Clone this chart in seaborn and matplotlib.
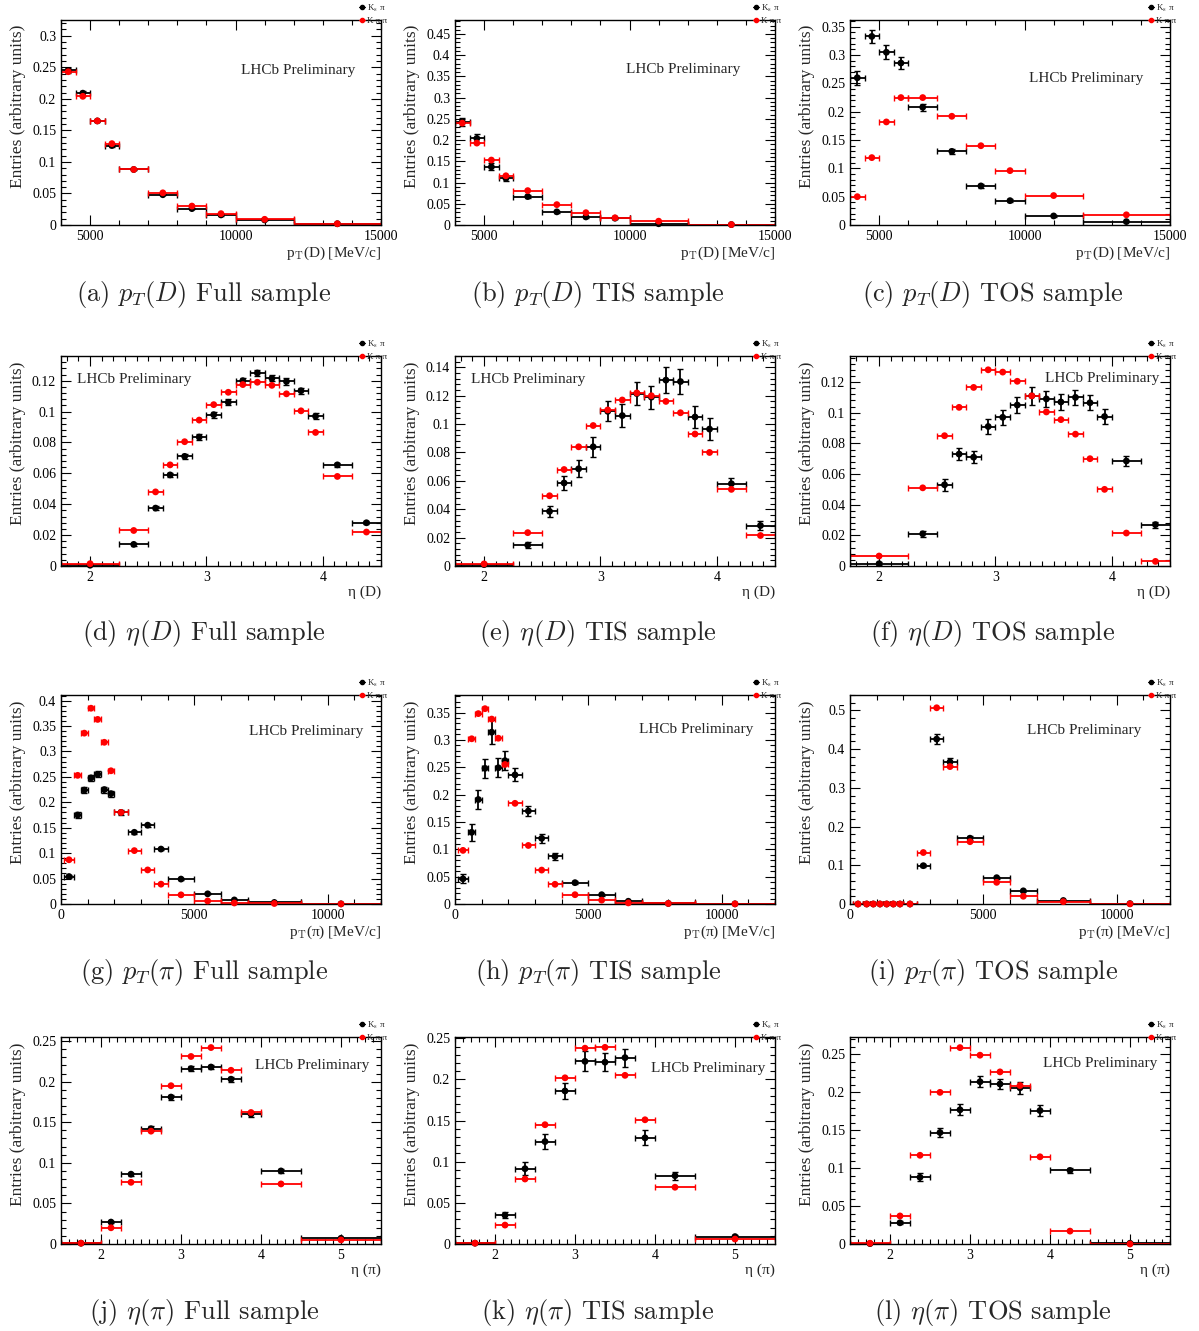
import numpy as np
import pandas as pd
import matplotlib
matplotlib.use("Agg")
import matplotlib.pyplot as plt
from matplotlib.lines import Line2D
from matplotlib.ticker import MultipleLocator, AutoMinorLocator, FuncFormatter
import seaborn as sns

# bin edges for the four variables
pt_d_edges = [4000, 4500, 5000, 5500, 6000, 7000, 8000, 9000, 10000, 12000, 15000]
eta_d_edges = [1.75, 2.25, 2.5, 2.625, 2.75, 2.875, 3.0, 3.125, 3.25, 3.375,
               3.5, 3.625, 3.75, 3.875, 4.0, 4.25, 4.5]
pt_pi_edges = [100, 500, 750, 1000, 1250, 1500, 1750, 2000, 2500, 3000, 3500,
               4000, 5000, 6000, 7000, 9000, 12000]
eta_pi_edges = [1.5, 2.0, 2.25, 2.5, 2.75, 3.0, 3.25, 3.5, 3.75, 4.0, 4.5, 5.5]
x_ranges = [(4000, 15000), (1.75, 4.5), (0, 12000), (1.5, 5.5)]

# (a)-(c) pT(D)
a_kspi = [0.245, 0.209, 0.165, 0.126, 0.088, 0.048, 0.026, 0.016, 0.008, 0.002]
a_kspi_err = [0.004, 0.004, 0.002, 0.002, 0.001, 0.001, 0.001, 0.001, 0.0005, 0.0003]
a_kpipi = [0.243, 0.204, 0.165, 0.129, 0.088, 0.051, 0.030, 0.018, 0.009, 0.002]
b_kspi = [0.243, 0.204, 0.137, 0.110, 0.067, 0.031, 0.019, 0.016, 0.003, 0.001]
b_kspi_err = [0.010, 0.011, 0.008, 0.006, 0.004, 0.003, 0.002, 0.002, 0.001, 0.0005]
b_kpipi = [0.240, 0.193, 0.153, 0.116, 0.081, 0.048, 0.029, 0.017, 0.009, 0.001]
c_kspi = [0.260, 0.333, 0.305, 0.286, 0.208, 0.130, 0.069, 0.043, 0.016, 0.006]
c_kspi_err = [0.012, 0.012, 0.012, 0.010, 0.006, 0.005, 0.004, 0.003, 0.002, 0.001]
c_kpipi = [0.050, 0.119, 0.182, 0.225, 0.225, 0.192, 0.140, 0.096, 0.052, 0.018]

# (d)-(f) eta(D)
d_kspi = [0.0005, 0.014, 0.0375, 0.059, 0.071, 0.0835, 0.098, 0.106, 0.120, 0.125,
          0.1215, 0.1195, 0.1135, 0.097, 0.0655, 0.028]
d_kspi_err = [0.0005, 0.001, 0.0015, 0.0015, 0.0015, 0.002, 0.002, 0.002, 0.002,
              0.002, 0.002, 0.002, 0.002, 0.002, 0.0015, 0.001]
d_kpipi = [0.0015, 0.023, 0.048, 0.0655, 0.0805, 0.0945, 0.1045, 0.1125, 0.1175,
           0.119, 0.117, 0.1115, 0.1005, 0.0865, 0.058, 0.022]
e_kspi = [0.001, 0.0147, 0.0385, 0.0585, 0.0685, 0.084, 0.109, 0.106, 0.1215, 0.119,
          0.131, 0.130, 0.105, 0.0965, 0.058, 0.0285]
e_kspi_err = [0.001, 0.002, 0.004, 0.005, 0.006, 0.007, 0.007, 0.008, 0.008, 0.008,
              0.009, 0.009, 0.008, 0.008, 0.004, 0.003]
e_kpipi = [0.0015, 0.0235, 0.0495, 0.068, 0.084, 0.099, 0.110, 0.117, 0.122, 0.120,
           0.116, 0.108, 0.093, 0.080, 0.054, 0.0215]
f_kspi = [0.0015, 0.021, 0.053, 0.073, 0.071, 0.091, 0.097, 0.105, 0.111, 0.109,
          0.107, 0.110, 0.1065, 0.0975, 0.0685, 0.027]
f_kspi_err = [0.001, 0.002, 0.004, 0.004, 0.004, 0.005, 0.005, 0.005, 0.006, 0.005,
              0.005, 0.005, 0.005, 0.005, 0.003, 0.002]
f_kpipi = [0.0065, 0.051, 0.085, 0.1035, 0.1165, 0.128, 0.1265, 0.1205, 0.111,
           0.1005, 0.0955, 0.086, 0.070, 0.050, 0.0215, 0.003]

# (g)-(i) pT(pi)
g_kspi = [0.054, 0.175, 0.224, 0.248, 0.255, 0.225, 0.217, 0.180, 0.141, 0.155,
          0.108, 0.049, 0.020, 0.008, 0.003, 0.0003]
g_kspi_err = [0.003, 0.006, 0.006, 0.006, 0.006, 0.006, 0.006, 0.005, 0.003, 0.003,
              0.002, 0.002, 0.001, 0.001, 0.0005, 0.0]
g_kpipi = [0.087, 0.253, 0.336, 0.385, 0.363, 0.318, 0.262, 0.180, 0.105, 0.067,
           0.039, 0.018, 0.006, 0.002, 0.001, 0.0002]
h_kspi = [0.046, 0.131, 0.191, 0.248, 0.314, 0.249, 0.262, 0.236, 0.170, 0.120,
          0.087, 0.039, 0.017, 0.005, 0.001, 0.0003]
h_kspi_err = [0.008, 0.016, 0.018, 0.017, 0.022, 0.017, 0.017, 0.012, 0.010, 0.008,
              0.006, 0.003, 0.002, 0.001, 0.0005, 0.0]
h_kpipi = [0.098, 0.302, 0.348, 0.357, 0.338, 0.303, 0.255, 0.184, 0.107, 0.062,
           0.036, 0.017, 0.007, 0.002, 0.001, 0.0002]
i_kspi = [0, 0, 0, 0, 0, 0, 0, 0, 0.099, 0.426, 0.367, 0.170, 0.068, 0.034, 0.009, 0.001]
i_kspi_err = [0, 0, 0, 0, 0, 0, 0, 0, 0.004, 0.012, 0.010, 0.005, 0.003, 0.002, 0.001, 0.0005]
i_kpipi = [0, 0, 0, 0, 0, 0, 0, 0, 0.133, 0.507, 0.355, 0.161, 0.056, 0.020, 0.006, 0.0003]

# (j)-(l) eta(pi)
j_kspi = [0.001, 0.027, 0.086, 0.142, 0.181, 0.216, 0.218, 0.203, 0.160, 0.090, 0.007]
j_kspi_err = [0.0005, 0.0015, 0.002, 0.003, 0.003, 0.003, 0.003, 0.003, 0.003, 0.002, 0.001]
j_kpipi = [0.001, 0.020, 0.076, 0.139, 0.195, 0.231, 0.242, 0.214, 0.162, 0.074, 0.005]
k_kspi = [0.001, 0.035, 0.0915, 0.1245, 0.186, 0.222, 0.221, 0.2265, 0.129, 0.083, 0.009]
k_kspi_err = [0.0005, 0.004, 0.008, 0.009, 0.010, 0.012, 0.011, 0.011, 0.009, 0.005, 0.002]
k_kpipi = [0.001, 0.023, 0.079, 0.145, 0.202, 0.238, 0.239, 0.205, 0.151, 0.069, 0.006]
l_kspi = [0.0005, 0.028, 0.088, 0.147, 0.177, 0.214, 0.211, 0.206, 0.176, 0.097, 0.001]
l_kspi_err = [0.0005, 0.002, 0.005, 0.006, 0.007, 0.007, 0.007, 0.008, 0.007, 0.003, 0.001]
l_kpipi = [0.001, 0.037, 0.117, 0.200, 0.259, 0.249, 0.227, 0.209, 0.115, 0.017, 0.0]

x_labels = ["p$_{\\mathrm{T}}$(D) [MeV/c]", "\u03b7 (D)",
            "p$_{\\mathrm{T}}$(\u03c0) [MeV/c]", "\u03b7 (\u03c0)"]
captions = [["(a) $p_T(D)$ Full sample", "(b) $p_T(D)$ TIS sample", "(c) $p_T(D)$ TOS sample"],
            ["(d) $\\eta(D)$ Full sample", "(e) $\\eta(D)$ TIS sample", "(f) $\\eta(D)$ TOS sample"],
            ["(g) $p_T(\\pi)$ Full sample", "(h) $p_T(\\pi)$ TIS sample", "(i) $p_T(\\pi)$ TOS sample"],
            ["(j) $\\eta(\\pi)$ Full sample", "(k) $\\eta(\\pi)$ TIS sample", "(l) $\\eta(\\pi)$ TOS sample"]]
legend_labels = ["K$_{\\mathrm{s}}$ \u03c0", "K \u03c0 \u03c0"]

panels = [
    [(pt_d_edges, a_kspi, a_kspi_err, a_kpipi, 0.325, 0.05, (0.74, 0.756)),
     (pt_d_edges, b_kspi, b_kspi_err, b_kpipi, 0.483, 0.05, (0.713, 0.76)),
     (pt_d_edges, c_kspi, c_kspi_err, c_kpipi, 0.362, 0.05, (0.738, 0.717))],
    [(eta_d_edges, d_kspi, d_kspi_err, d_kpipi, 0.136, 0.02, (0.23, 0.89)),
     (eta_d_edges, e_kspi, e_kspi_err, e_kpipi, 0.148, 0.02, (0.23, 0.886)),
     (eta_d_edges, f_kspi, f_kspi_err, f_kpipi, 0.137, 0.02, (0.788, 0.895))],
    [(pt_pi_edges, g_kspi, g_kspi_err, g_kpipi, 0.411, 0.05, (0.766, 0.823)),
     (pt_pi_edges, h_kspi, h_kspi_err, h_kpipi, 0.382, 0.05, (0.754, 0.837)),
     (pt_pi_edges, i_kspi, i_kspi_err, i_kpipi, 0.54, 0.1, (0.732, 0.828))],
    [(eta_pi_edges, j_kspi, j_kspi_err, j_kpipi, 0.255, 0.05, (0.784, 0.86)),
     (eta_pi_edges, k_kspi, k_kspi_err, k_kpipi, 0.2516, 0.05, (0.791, 0.85)),
     (eta_pi_edges, l_kspi, l_kspi_err, l_kpipi, 0.273, 0.05, (0.782, 0.874))],
]
x_major = [5000, 1, 5000, 1]

sns.set_style("ticks")
plt.rcParams['font.family'] = ['Liberation Serif', 'DejaVu Serif']
plt.rcParams['mathtext.fontset'] = 'cm'

W, H = 1199, 1331
fig = plt.figure(figsize=(W / 100, H / 100), dpi=100)

col_left = [61, 455, 850]
row_box = [(20, 225), (356, 566), (695, 904), (1037, 1244)]
cap_x = [204, 598, 993]
cap_y = [294, 633, 973, 1312]

fmt = FuncFormatter(lambda v, p: "%g" % round(v, 6))

for r in range(4):
    top, bottom = row_box[r]
    for c in range(3):
        edges, kspi, kspi_err, kpipi, ymax, ystep, lhcb_pos = panels[r][c]
        edges = np.array(edges, dtype=float)
        centers = (edges[:-1] + edges[1:]) / 2
        halfw = np.diff(edges) / 2
        ax = fig.add_axes([col_left[c] / W, 1 - bottom / H, 320 / W, (bottom - top) / H])

        df = pd.DataFrame({
            "x": np.concatenate([centers, centers]),
            "y": np.concatenate([kspi, kpipi]),
            "sample": ["kspi"] * len(centers) + ["kpipi"] * len(centers),
        })
        ax.errorbar(centers, kspi, xerr=halfw, yerr=kspi_err, fmt='none',
                    ecolor='black', elinewidth=1.3, capsize=2, capthick=1, zorder=2)
        ax.errorbar(centers, kpipi, xerr=halfw, fmt='none',
                    ecolor='red', elinewidth=1.3, capsize=2, capthick=1, zorder=2)
        sns.scatterplot(data=df, x="x", y="y", hue="sample",
                        palette={"kspi": "black", "kpipi": "red"}, s=24,
                        edgecolor='none', legend=False, ax=ax, zorder=3, clip_on=False)

        ax.set_xlim(*x_ranges[r])
        ax.set_ylim(0, ymax)
        ax.yaxis.set_major_locator(MultipleLocator(ystep))
        ax.yaxis.set_minor_locator(AutoMinorLocator(5))
        ax.xaxis.set_major_locator(MultipleLocator(x_major[r]))
        ax.xaxis.set_minor_locator(AutoMinorLocator(5 if x_major[r] > 10 else 10))
        ax.xaxis.set_major_formatter(fmt)
        ax.yaxis.set_major_formatter(fmt)
        ax.tick_params(which='both', direction='in', top=True, right=True,
                       labelsize=10, width=0.8, colors='black')
        ax.tick_params(which='major', length=7)
        ax.tick_params(which='minor', length=3.5)
        for sp in ax.spines.values():
            sp.set_linewidth(1.0)
            sp.set_color('black')

        ax.set_xlabel(x_labels[r], loc='right', fontsize=11, labelpad=1)
        ax.set_ylabel("Entries (arbitrary units)", loc='top', fontsize=12.5)
        ax.yaxis.set_label_coords(-0.11, 0.975)

        ax.text(lhcb_pos[0], lhcb_pos[1], "LHCb Preliminary", transform=ax.transAxes,
                ha='center', va='center', fontsize=11)

        handles = [Line2D([], [], color='black', marker='o', markersize=3, lw=0.8),
                   Line2D([], [], color='red', marker='o', markersize=3, lw=0.8)]
        ax.legend(handles, legend_labels, loc='upper left', bbox_to_anchor=(0.93, 1.085),
                  frameon=False, fontsize=6.5, handlelength=0.7, handletextpad=0.2,
                  borderpad=0, borderaxespad=0, labelspacing=0.3)

        fig.text(cap_x[c] / W, 1 - cap_y[r] / H, captions[r][c], ha='center', va='center',
                 fontsize=19, family='cmr10')

fig.savefig("out.png", dpi=100)
